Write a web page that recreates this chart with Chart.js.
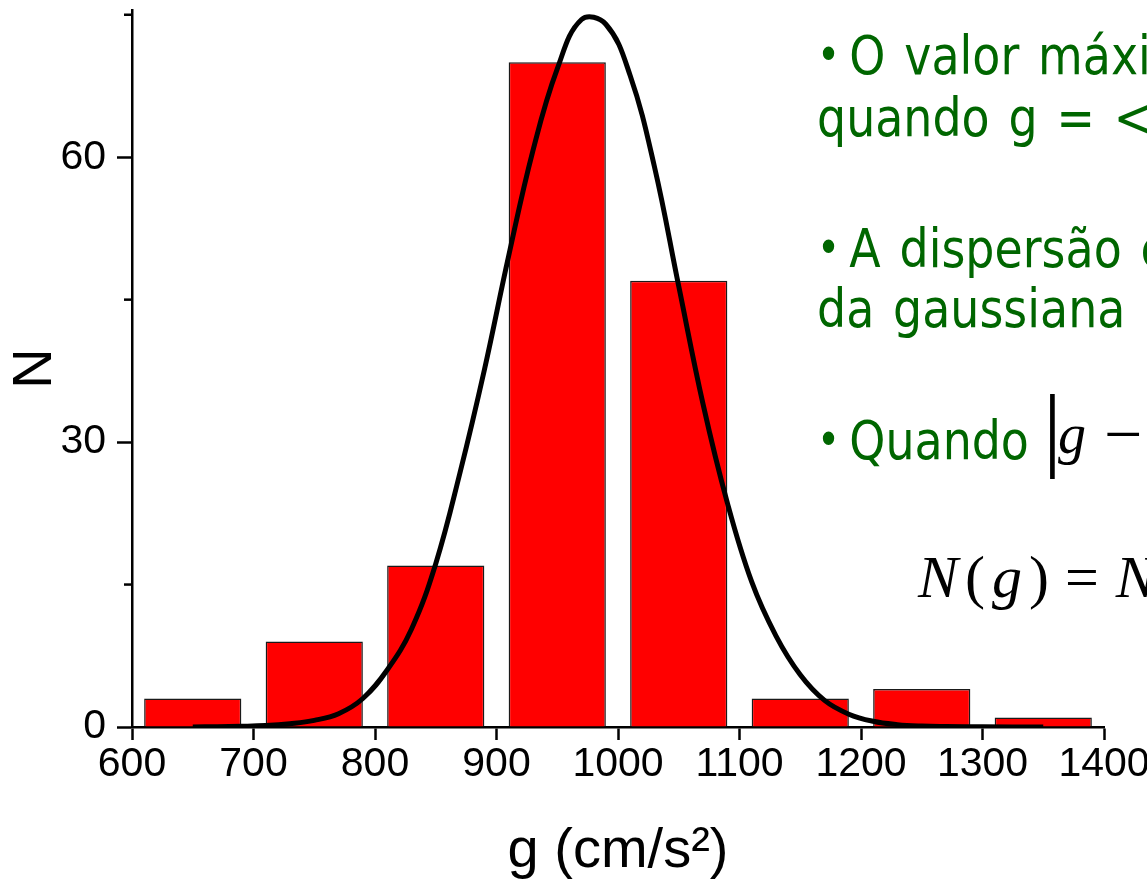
<!DOCTYPE html>
<html>
<head>
<meta charset="utf-8">
<title>Histograma de g</title>
<script src="https://cdn.jsdelivr.net/npm/chart.js@4.4.1/dist/chart.umd.min.js"></script>
<style>
  html, body { margin: 0; padding: 0; background: #fff; overflow: hidden; }
  #wrap { position: relative; width: 1147px; height: 880px; overflow: hidden; }
  canvas { position: absolute; left: 0; top: 0; }
  .note {
    position: absolute; left: 817px; white-space: nowrap; color: #006600;
    font-family: "DejaVu Sans", sans-serif; font-size: 54px; line-height: 1;
    word-spacing: 5px;
    transform: scaleX(0.85); transform-origin: 0 0;
  }
  .bullet { display: inline-block; width: 38px; font-size: 46px; vertical-align: 3px; }
  .math { position: absolute; white-space: nowrap; color: #000; font-family: "Liberation Serif", serif; line-height: 1; }
</style>
</head>
<body>
<div id="wrap">
  <canvas id="chart" width="1147" height="880"></canvas>

  <div class="note" style="top:29px"><span class="bullet">•</span>O valor máximo</div>
  <div class="note" style="top:91px">quando g = &lt;g&gt;</div>
  <div class="note" style="top:222px"><span class="bullet">•</span>A dispersão é</div>
  <div class="note" style="top:282px">da gaussiana</div>
  <div class="note" style="top:414px"><span class="bullet">•</span>Quando</div>

  <div class="math" style="left:1043px; top:380px; font-size:94px">|</div>
  <div class="math" style="left:1058px; top:406px; font-size:56px"><i>g</i></div>
  <div class="math" style="left:1104px; top:400px; font-size:68px">−</div>

  <div class="math" style="left:918px; top:547px; font-size:60px; letter-spacing:7px"><i>N</i>(<i>g</i>)<span style="margin-left:9px">=</span><i style="margin-left:10px">N</i></div>
</div>

<script>
// histogram of g (bins of 100 cm/s2)
const binCenters = [650, 750, 850, 950, 1050, 1150, 1250, 1350]
const counts = [3, 9, 17, 70, 47, 3, 4, 1]

// gaussian fit, every 20 cm/s2
const curveG = [650, 670, 690, 710, 730, 750, 770, 790, 810, 830, 850, 870, 890, 910, 930, 950, 970,
    990, 1010, 1030, 1050, 1070, 1090, 1110, 1130, 1150, 1170, 1190, 1210, 1230, 1250, 1270, 1300, 1350]
const curveN = [0, 0.03, 0.07, 0.15, 0.35, 0.7, 1.4, 3.0, 6.0, 10.3, 17.2, 26.8, 37.6, 49.6, 60.7, 69.3, 74.5,
    74.0, 68.6, 59.0, 46.4, 34.0, 23.6, 15.3, 9.6, 5.5, 2.8, 1.35, 0.6, 0.25, 0.1, 0.05, 0.02, 0]

const xTicks = [600, 700, 800, 900, 1000, 1100, 1200, 1300, 1400]
const yLabeled = [0, 30, 60]
const yMinor = [15, 45, 75]

const axisFont = { family: "'Liberation Sans', Arial, sans-serif", size: 41 }
const titleFont = { family: "'Liberation Sans', Arial, sans-serif", size: 56, lineHeight: 1 }

const minorTicks = {
    id: 'minorTicks',
    afterDraw(chart) {
        const y = chart.scales.y
        const ctx = chart.ctx
        ctx.save()
        ctx.strokeStyle = '#000'
        ctx.lineWidth = 2.5
        for (let v of yMinor) {
            let py = y.getPixelForValue(v)
            ctx.beginPath()
            ctx.moveTo(y.right - 8, py)
            ctx.lineTo(y.right, py)
            ctx.stroke()
        }
        ctx.restore()
    }
}

new Chart(document.getElementById('chart'), {
    type: 'bar',
    data: {
        datasets: [{
            type: 'line',
            order: 0,
            data: curveG.map((g, i) => ({ x: g, y: curveN[i] })),
            borderColor: '#000',
            borderWidth: 5,
            pointRadius: 0,
            fill: false,
            tension: 0.4
        }, {
            type: 'bar',
            order: 1,
            data: binCenters.map((g, i) => ({ x: g, y: counts[i] })),
            backgroundColor: '#ff0000',
            borderColor: '#1a1a1a',
            borderWidth: 1.5,
            borderSkipped: 'bottom',
            barPercentage: 0.8,
            categoryPercentage: 1
        }]
    },
    options: {
        responsive: false,
        animation: false,
        devicePixelRatio: 1,
        layout: { padding: { top: 10, right: 43, left: 0, bottom: 0 } },
        plugins: {
            legend: { display: false },
            tooltip: { enabled: false }
        },
        scales: {
            x: {
                type: 'linear',
                min: 600,
                max: 1400,
                offset: false,
                afterBuildTicks: s => { s.ticks = xTicks.map(v => ({ value: v })) },
                afterFit: s => { s.height = 153; s.paddingLeft = 0; s.paddingRight = 0 },
                ticks: {
                    color: '#000', font: axisFont, padding: 0, maxRotation: 0, autoSkip: false,
                    callback: value => String(value)
                },
                grid: { display: true, offset: false, drawOnChartArea: false, drawTicks: true, tickLength: 13, tickColor: '#000', tickWidth: 2.5 },
                border: { display: true, color: '#000', width: 2.5 },
                title: { display: true, text: 'g (cm/s²)', color: '#000', font: titleFont, padding: { top: 6, bottom: 0 } }
            },
            y: {
                min: 0,
                max: 75.5,
                afterBuildTicks: s => { s.ticks = yLabeled.map(v => ({ value: v })) },
                afterFit: s => { s.width = 132; s.paddingTop = 0; s.paddingBottom = 0 },
                ticks: { color: '#000', font: axisFont, padding: 11, callback: value => String(value) },
                grid: { display: true, drawOnChartArea: false, drawTicks: true, tickLength: 15, tickColor: '#000', tickWidth: 2.5 },
                border: { display: true, color: '#000', width: 2.5 },
                title: { display: true, text: 'N', color: '#000', font: titleFont, padding: { top: 8, bottom: 0 } }
            }
        }
    },
    plugins: [minorTicks]
})
</script>
</body>
</html>
